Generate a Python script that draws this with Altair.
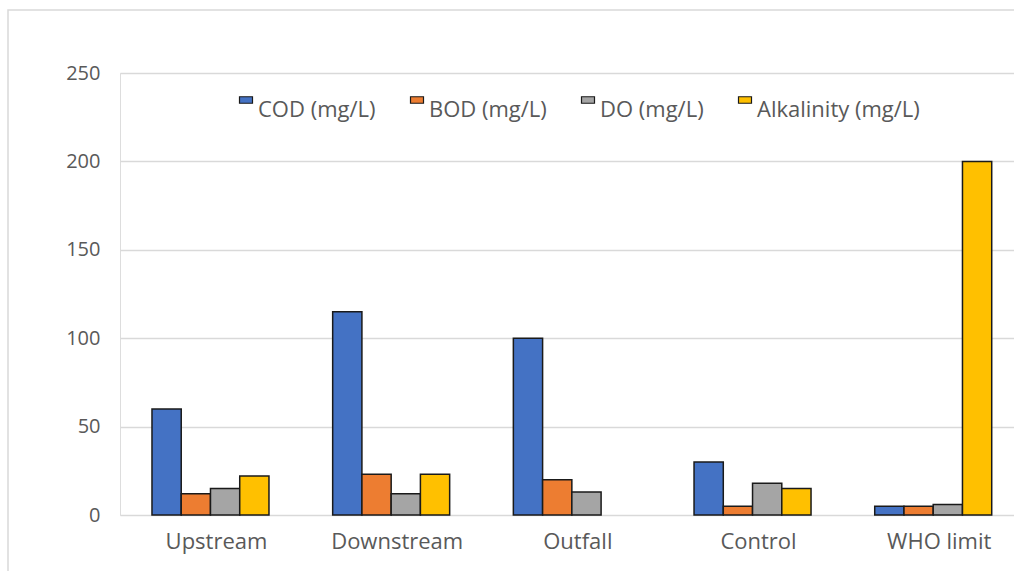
import altair as alt
import pandas as pd

# Sampling sites and measured parameters
sites = ["Upstream", "Downstream", "Outfall", "Control", "WHO limit"]
series = ["COD (mg/L)", "BOD (mg/L)", "DO (mg/L)", "Alkalinity (mg/L)"]
cod = [60, 115, 100, 30, 5]
bod = [12, 23, 20, 5, 5]
do = [15, 12, 13, 18, 6]
alkalinity = [22, 23, None, 15, 200]
colors = ["#4472C4", "#ED7D31", "#A5A5A5", "#FFC000"]
y_ticks = [0, 50, 100, 150, 200, 250]

rows = []
for name, vals in zip(series, [cod, bod, do, alkalinity]):
    for site, v in zip(sites, vals):
        if v is not None:
            rows.append({"site": site, "parameter": name, "value": v})
df = pd.DataFrame(rows)

W, H = 894, 442
FONT = "Open Sans"
GREY_TEXT = "#595959"

bars = alt.Chart(df).mark_bar(stroke="#1a1a1a", strokeWidth=1.5).encode(
    x=alt.X("site:N", sort=sites, title=None,
            scale=alt.Scale(paddingInner=0.3525, paddingOuter=0.177,
                            range=[0, 903.7]),
            axis=alt.Axis(labelAngle=0, labelFontSize=22, labelColor=GREY_TEXT,
                          labelFont=FONT, ticks=False, domain=False,
                          labelPadding=16, labelOffset=6, grid=False)),
    xOffset=alt.XOffset("parameter:N", sort=series,
                        scale=alt.Scale(paddingInner=0, paddingOuter=0)),
    y=alt.Y("value:Q", title=None,
            scale=alt.Scale(domain=[0, 250], nice=False),
            axis=alt.Axis(values=y_ticks, labelFontSize=20, labelColor=GREY_TEXT,
                          labelFont=FONT, ticks=False, domain=False,
                          labelPadding=20, gridColor="#D9D9D9", gridWidth=1.5)),
    color=alt.Color("parameter:N", sort=series,
                    scale=alt.Scale(domain=series, range=colors),
                    legend=alt.Legend(
                        title=None, orient="none", direction="horizontal",
                        legendX=115, legendY=16, columns=4, columnPadding=30,
                        symbolType="M-1,-0.5H1V0.5H-1Z", symbolSize=169,
                        symbolStrokeColor="#1a1a1a", symbolStrokeWidth=1.2,
                        labelFont=FONT, labelFontSize=22, labelColor=GREY_TEXT,
                        labelOffset=1, labelBaseline="top", labelLimit=300)),
)

# Light outer frame around the chart
frame = alt.Chart(pd.DataFrame({"f": [0]})).mark_rect(
    fill="transparent", stroke="#D9D9D9", strokeWidth=1.5
).encode(
    x=alt.value(-112), x2=alt.value(W + 40),
    y=alt.value(-63), y2=alt.value(H + 80),
)

chart = alt.layer(frame, bars).properties(
    width=W, height=H,
    autosize=alt.AutoSizeParams(type="none"),
    padding={"left": 120, "top": 73, "right": 0, "bottom": 56},
).configure_view(stroke=None).configure(background="white")

chart.save("out.html", embed_options={"renderer": "svg", "actions": False})
